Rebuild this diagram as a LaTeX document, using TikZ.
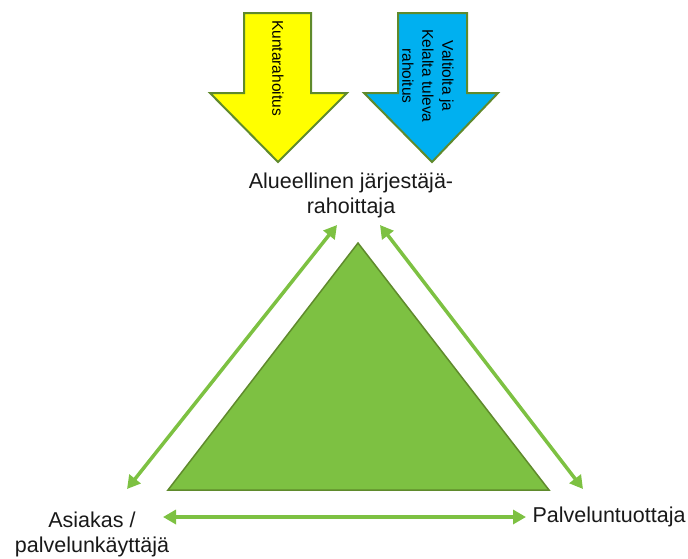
\documentclass[tikz,border=0pt]{standalone}
\usepackage{fontspec}
\setmainfont{Liberation Sans}
\usetikzlibrary{arrows.meta}
\definecolor{leaf}{HTML}{7DC142}
\definecolor{olive}{HTML}{5F8A2C}
\definecolor{sky}{HTML}{00B0F0}
\definecolor{lemon}{HTML}{FFFF00}
\tikzset{
  label/.style={inner sep=0pt, align=center, text=black!90,
    font=\fontsize{21.5}{25}\selectfont},
  flowtext/.style={inner sep=0pt, align=center, rotate=-90,
    font=\fontsize{15.5}{20}\selectfont},
  blockarrow/.style={draw=olive, line width=2pt, line join=miter},
  link/.style={draw=leaf, line width=3.5pt,
    {Triangle[length=13pt,width=14pt]}-{Triangle[length=13pt,width=14pt]}},
}
\begin{document}
\begin{tikzpicture}[x=1pt,y=-1pt]
\useasboundingbox (0,0) rectangle (688,558);

% funding arrows
\path[blockarrow, fill=lemon] (244,13) -- (311,13) -- (311,93) -- (347,93)
  -- (278,162) -- (210,93) -- (244,93) -- cycle;
\path[blockarrow, fill=sky] (398,13) -- (467,13) -- (467,93) -- (498,93)
  -- (432,162) -- (364,93) -- (398,93) -- cycle;
\node[flowtext] (kunta) at (278,68) {Kuntarahoitus};
\node[flowtext] (valtio) at (428,76) {Valtiolta ja\\Kelalta tuleva\\rahoitus};

% central triangle
\path[draw=olive, line width=1.5pt, fill=leaf, line join=miter]
  (358,243) -- (549,490) -- (168,490) -- cycle;

% actors
\node[label] (jarjestaja) at (351,195) {Alueellinen järjestäjä-\\rahoittaja};
\node[label] (asiakas) at (92,534) {Asiakas /\\palvelunkäyttäjä};
\node[label] (tuottaja) at (609,516.5) {Palveluntuottaja};

% connector ends
\coordinate (jl) at (337,225);
\coordinate (jr) at (380,225);
\coordinate (al) at (127,489);
\coordinate (ah) at (163,517);
\coordinate (tl) at (583,489);
\coordinate (th) at (526,517);

\draw[link] (al) -- (jl);
\draw[link] (jr) -- (tl);
\draw[link] (ah) -- (th);
\end{tikzpicture}
\end{document}
